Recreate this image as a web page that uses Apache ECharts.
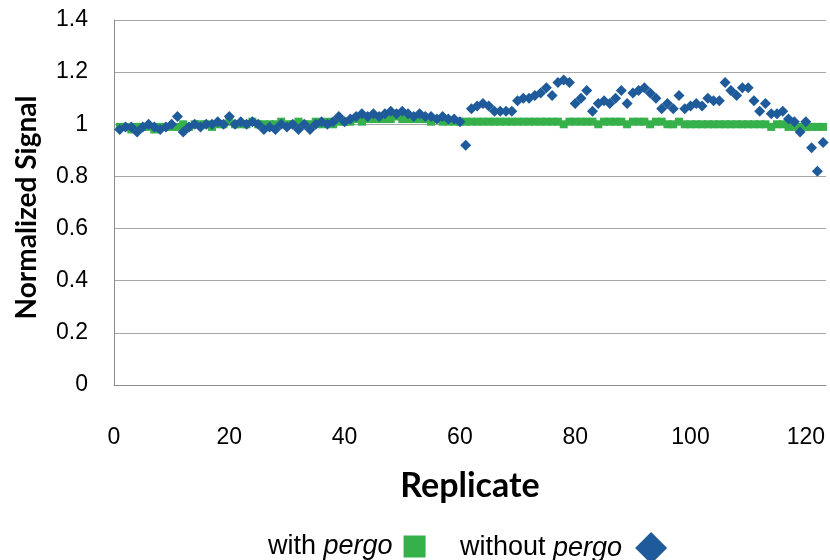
<!DOCTYPE html>
<html>
<head>
<meta charset="utf-8">
<script src="https://cdn.jsdelivr.net/npm/echarts@6/dist/echarts.min.js"></script>
<style>html,body{margin:0;padding:0;background:#fff}#c{width:830px;height:560px}</style>
</head>
<body>
<div id="c"></div>
<script>
const replicates = Array.from({length: 123}, (_, i) => i + 1);
const withPergo = [
  0.99,0.99,0.98,0.99,0.99,0.99,0.98,0.99,0.99,0.99,
  0.99,1.00,0.99,1.00,1.00,1.00,0.99,1.00,1.00,1.01,
  1.00,1.00,1.00,1.01,1.00,1.00,1.00,1.00,1.01,1.00,
  1.00,1.01,1.00,1.00,1.01,1.00,1.01,1.00,1.01,1.01,
  1.01,1.02,1.01,1.02,1.02,1.02,1.02,1.02,1.03,1.02,
  1.02,1.02,1.02,1.02,1.01,1.02,1.01,1.01,1.01,1.01,
  1.01,1.01,1.01,1.01,1.01,1.01,1.01,1.01,1.01,1.01,
  1.01,1.01,1.01,1.01,1.01,1.01,1.01,1.00,1.01,1.01,
  1.01,1.01,1.01,1.00,1.01,1.01,1.01,1.01,1.00,1.01,
  1.01,1.01,1.00,1.01,1.01,1.00,1.00,1.01,1.00,1.00,
  1.00,1.00,1.00,1.00,1.00,1.00,1.00,1.00,1.00,1.00,
  1.00,1.00,1.00,0.99,1.00,1.00,0.99,0.99,0.99,0.99,
  0.99,0.99,0.99
];
const withoutPergo = [
  0.98,0.99,0.99,0.97,0.99,1.00,0.99,0.98,0.99,1.00,
  1.03,0.97,0.99,1.00,0.99,1.00,1.00,1.01,1.00,1.03,
  1.00,1.01,1.00,1.01,1.00,0.98,0.99,0.98,1.00,0.99,
  1.00,0.98,1.00,0.98,1.00,1.01,1.00,1.01,1.03,1.01,
  1.02,1.03,1.04,1.03,1.04,1.03,1.04,1.05,1.04,1.05,
  1.04,1.03,1.04,1.03,1.03,1.02,1.03,1.02,1.02,1.01,
  0.92,1.06,1.07,1.08,1.07,1.05,1.05,1.05,1.05,1.09,
  1.10,1.10,1.11,1.12,1.14,1.11,1.16,1.17,1.16,1.08,
  1.10,1.13,1.05,1.08,1.09,1.08,1.10,1.13,1.08,1.12,
  1.13,1.14,1.12,1.10,1.06,1.08,1.06,1.11,1.06,1.07,
  1.08,1.07,1.10,1.09,1.09,1.16,1.13,1.11,1.14,1.14,
  1.09,1.05,1.08,1.04,1.04,1.05,1.02,1.01,0.97,1.01,
  0.91,0.82,0.93
];
const yTicks = [0, 0.2, 0.4, 0.6, 0.8, 1, 1.2, 1.4];

const chart = echarts.init(document.getElementById('c'), null, {renderer: 'canvas'});
const greenData = replicates.map((x, i) => [x, withPergo[i]]);
const blueData = replicates.map((x, i) => [x, withoutPergo[i]]);
const FONT = 'Liberation Sans, Arial, sans-serif';
function legendText(gap) {
  return {
    fontFamily: FONT, fontSize: 27, color: '#000',
    rich: {
      n: {fontFamily: FONT, fontSize: 27, color: '#000'},
      i: {fontFamily: FONT, fontSize: 27, color: '#000', fontStyle: 'italic', padding: [0, gap, 0, 0]}
    }
  };
}
chart.setOption({
  animation: false,
  grid: {left: 114, right: 4, top: 20, bottom: 175, containLabel: false},
  xAxis: {
    type: 'value', min: 0, max: 123.5, interval: 20,
    name: 'Replicate', nameLocation: 'middle', nameGap: 84,
    nameTextStyle: {fontFamily: 'Lato, Open Sans, sans-serif', fontWeight: 'bold', fontSize: 34, color: '#000'},
    axisLine: {show: true, lineStyle: {color: '#8c8c8c', width: 1}},
    axisTick: {show: false},
    splitLine: {show: false},
    axisLabel: {margin: 41, fontFamily: FONT, fontSize: 23, color: '#000', showMaxLabel: false}
  },
  yAxis: {
    type: 'value', min: 0, max: 1.4, interval: 0.2,
    name: 'Normalized Signal', nameLocation: 'middle', nameGap: 73, nameRotate: 90,
    nameTextStyle: {fontFamily: 'Lato, Open Sans, sans-serif', fontWeight: 'bold', fontSize: 28, color: '#000', padding: [0, 10, 0, 0]},
    axisLine: {show: true, lineStyle: {color: '#8c8c8c', width: 1}},
    axisTick: {show: false},
    splitLine: {show: true, lineStyle: {color: '#a6a6a6', width: 1}},
    axisLabel: {margin: 26, fontFamily: FONT, fontSize: 23, color: '#000',
      formatter: v => { const t = yTicks.find(k => Math.abs(k - v) < 1e-9); return t === undefined ? '' : String(t); }}
  },
  legend: [
    {
      data: [{name: 'with pergo', icon: 'rect'}],
      left: 263, top: 528, align: 'right', itemWidth: 22, itemHeight: 22, itemGap: 0,
      textStyle: legendText(6),
      formatter: () => '{n|with }{i|pergo}'
    },
    {
      data: [{name: 'without pergo', icon: 'diamond'}],
      left: 455, top: 527, align: 'right', itemWidth: 32, itemHeight: 32, itemGap: 0,
      textStyle: legendText(8),
      formatter: () => '{n|without }{i|pergo}'
    }
  ],
  series: [
    {
      name: 'with pergo', type: 'scatter', symbol: 'rect', symbolSize: 8,
      itemStyle: {color: '#36b04a', opacity: 1}, data: greenData, z: 2
    },
    {
      name: 'without pergo', type: 'scatter', symbol: 'diamond', symbolSize: 11,
      itemStyle: {color: '#1f5b9a', opacity: 1}, data: blueData, z: 3
    }
  ]
});
</script>
</body>
</html>
